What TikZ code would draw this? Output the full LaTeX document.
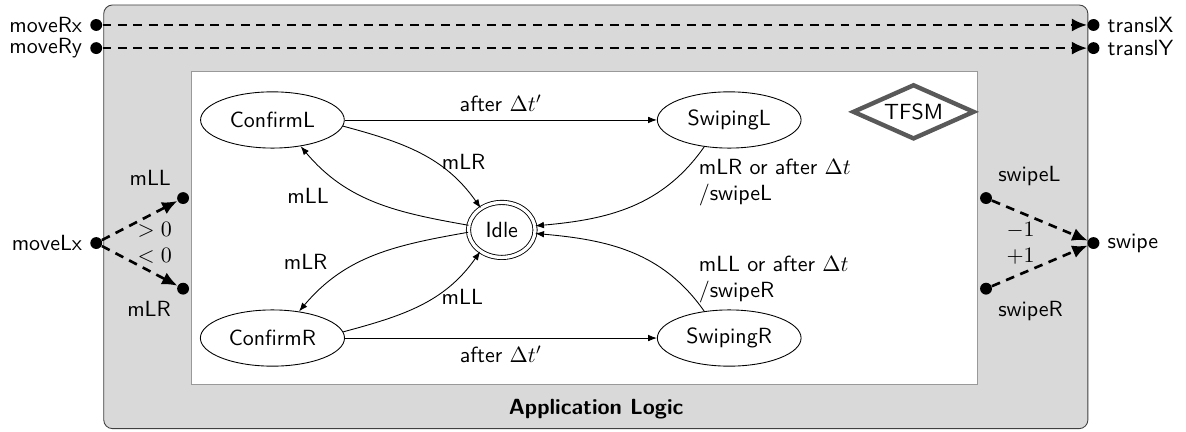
\documentclass[tikz,border=0pt]{standalone}
\usepackage{amssymb}
\usepackage{tikz}
\usetikzlibrary{arrows.meta}
\usetikzlibrary{shapes.geometric}
\usepackage{amsmath}
\renewcommand{\familydefault}{\sfdefault}

\begin{document}
\begin{tikzpicture}
		\useasboundingbox (0,0) rectangle (18.98,6.91);
		% the two boxes
		\draw[black!75,fill=gray!30,rounded corners=4pt] (1.66,0.05) rectangle (17.41,6.83);
		\draw[black!40,fill=white] (3.06,0.75) rectangle (15.65,5.76);
		\node[font=\bfseries] (applogic) at (9.54,0.37) {Application Logic};

		\begin{scope}[dot/.style={circle,fill=black,inner sep=0pt,minimum size=0.19cm}]
		    	\node[dot,label=left:moveRx] (moveRx) at (1.54,6.51) {};
			\node[dot,label=left:moveRy] (moveRy) at (1.54,6.14) {};
		    	\node[dot,label=right:translX] (translX) at (17.5,6.51) {};
			\node[dot,label=right:translY] (translY) at (17.5,6.14) {};
		    	\node[dot,label=left:moveLx] (moveLx) at (1.54,3.02) {};
			\node[dot,label=above left:mLL] (mLL) at (2.93,3.74) {};
		    	\node[dot,label=below left:mLR] (mLR) at (2.93,2.29) {};
			\node[dot,label=above right:swipeL] (swipeL) at (15.78,3.74) {};
		    	\node[dot,label=below right:swipeR] (swipeR) at (15.78,2.29) {};
			\node[dot,label=right:swipe] (swipe) at (17.5,3.02) {};
		\end{scope}

		\begin{scope}[every node/.style={ellipse,draw,minimum width=2.3cm,minimum height=0.9cm}]
		    	\node (confirmL) at (4.36,4.99) {ConfirmL};
			\node (confirmR) at (4.36,1.5) {ConfirmR};
		    	\node (swipingL) at (11.67,4.99) {SwipingL};
			\node (swipingR) at (11.67,1.5) {SwipingR};
		    	\node[double,double distance=1.5pt,minimum width=1.06cm,minimum height=0.88cm] (idle) at (8.03,3.23) {Idle};
		\end{scope}
		\node[diamond,draw=black!65,line width=2pt,inner sep=1pt,shape aspect=2.2,
		      minimum width=1.95cm,minimum height=0.88cm] (tfsm) at (14.62,5.12) {TFSM};

		\begin{scope}[>={Latex[length=7pt,width=6pt]},
		              every edge/.style={draw=black,very thick,dash pattern=on 4pt off 3pt,->}]
			\path (moveRx) edge (translX);
			\path (moveRy) edge (translY);
			\path (moveLx) edge node[pos=0.7,below,inner sep=4pt] (gtzero) {$>0$} (mLL);
			\path (moveLx) edge node[pos=0.7,above,inner sep=4pt] (ltzero) {$<0$} (mLR);
			\path (swipeL) edge node[pos=0.3,below,inner sep=4pt] (minusone) {$-1$} (swipe);
			\path (swipeR) edge node[pos=0.3,above,inner sep=4pt] (plusone) {$+1$} (swipe);
		\end{scope}

		\begin{scope}[>={Latex[length=4pt]},
		              every edge/.style={draw=black,->}]
			\path (confirmL) edge node[above] (afterL) {after $\Delta t'$} (swipingL);
			\path (confirmR) edge node[below] (afterR) {after $\Delta t'$} (swipingR);
			\path (confirmL.-5) edge[out=-15,in=125] node[pos=0.6,right] (cLidle) {mLR} (idle.134);
			\path (idle.172) edge[out=170,in=-50] node[pos=0.75,below left] (idlecL) {mLL} (confirmL.-43);
			\path (idle.184) edge[out=190,in=50] node[pos=0.75,above left] (idlecR) {mLR} (confirmR.45);
			\path (confirmR.5) edge[out=15,in=-125] node[pos=0.6,right] (cRidle) {mLL} (idle.225);
			\path (swipingL.-133) edge[out=-125,in=5]
				node[pos=0,anchor=north west,align=left,xshift=-6pt,yshift=-2pt] (sLidle) {mLR or after $\Delta t$\\/swipeL} (idle.7);
			\path (swipingR.133) edge[out=125,in=-5]
				node[pos=0,anchor=south west,align=left,xshift=-6pt,yshift=0pt] (sRidle) {mLL or after $\Delta t$\\/swipeR} (idle.-6);
		\end{scope}
		\end{tikzpicture}
\end{document}
